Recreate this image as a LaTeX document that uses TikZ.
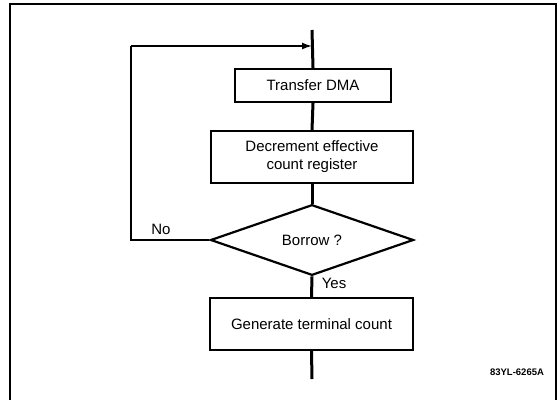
\documentclass[tikz,border=0pt]{standalone}
\usepackage{fontspec}
\setmainfont{Liberation Sans}
\usetikzlibrary{arrows.meta, positioning, shapes.geometric}

\begin{document}
\begin{tikzpicture}[x=1pt, y=-1pt,
    procbox/.style={draw, line width=2.2pt, align=center, inner sep=0pt,
        font=\fontsize{15}{18}\selectfont},
    decision/.style={draw, diamond, line width=2.2pt, inner sep=0pt,
        minimum width=203pt, minimum height=66pt, font=\fontsize{15}{18}\selectfont},
    flow/.style={line width=3pt},
    loopline/.style={line width=1.5pt},
    answer/.style={font=\fontsize{15}{18}\selectfont},
]
  \useasboundingbox (0,0) rectangle (559,400);

  % Frame (open at the bottom)
  \draw[line width=1.4pt] (10,400) -- (10,4) -- (556,4) -- (556,400);

  % Steps of the flow
  \node[procbox, minimum width=156pt, minimum height=33pt] (xfer) at (313,85.5) {Transfer DMA};
  \node[procbox, minimum width=202pt, minimum height=52pt] (decr) at (312,157) {Decrement effective\\count register};
  \node[decision] (borrow) at (312,240) {Borrow ?};
  \node[procbox, minimum width=203pt, minimum height=52pt] (tc) at (311.5,324) {Generate terminal count};

  % Free ends of the main line and the loop corners
  \coordinate (start) at (312,30);
  \coordinate (finish) at (312,379);
  \coordinate (entry) at (312,46);
  \coordinate (cornerlow) at (131,240);
  \coordinate (cornerup) at (131,46);

  % Main line
  \draw[flow] (start) -- (xfer.north);
  \draw[flow] (xfer.south) -- (decr.north);
  \draw[flow] (decr.south) -- (borrow.north);
  \draw[flow] (borrow.south) -- (tc.north);
  \draw[flow] (tc.south) -- (finish);

  % Loop back when no borrow
  \draw[loopline] (borrow.west) -- (cornerlow) -- (cornerup);
  \draw[loopline, -{Latex[length=10pt, width=7pt]}] (cornerup) -- (entry);

  \node[answer] (no) at (161,229) {No};
  \node[answer] (yes) at (334,283) {Yes};

  \node[font=\fontsize{9.5}{11}\selectfont\bfseries] (fig) at (517,372) {83YL-6265A};
\end{tikzpicture}
\end{document}
